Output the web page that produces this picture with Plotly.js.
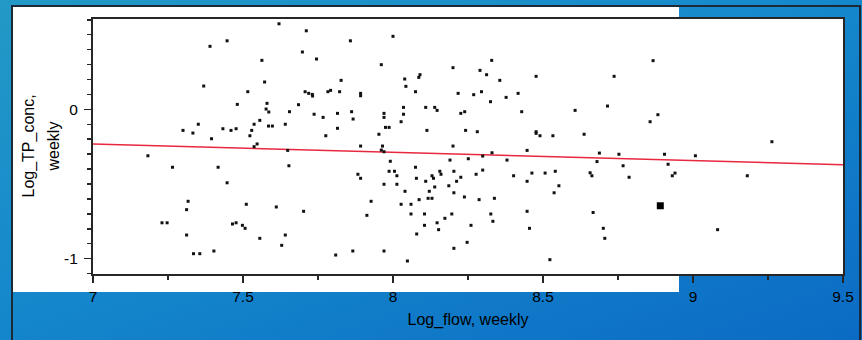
<!DOCTYPE html>
<html>
<head>
<meta charset="utf-8">
<script src="https://cdn.plot.ly/plotly-3.0.1.min.js"></script>
<style>
  html, body { margin: 0; padding: 0; }
  body {
    width: 862px; height: 340px; overflow: hidden; position: relative;
    background: linear-gradient(160deg, #2399c6 0%, #1589cc 45%, #0b6bc4 100%);
  }
  #frame {
    position: absolute; left: 11px; top: 5px; width: 846px; height: 340px;
    border-left: 2px solid #1c2a38; border-top: 2px solid #1c2a38; border-right: 2px solid #1c2a38;
  }
  #panel {
    position: absolute; left: 13px; top: 7px; width: 666px; height: 285px; background: #ffffff;
  }
  #chart { position: absolute; left: 0; top: 0; width: 862px; height: 340px; }
</style>
</head>
<body>
<div id="frame"></div>
<div id="panel"></div>
<div id="chart"></div>
<script>
// Weekly log flow (x) and log TP concentration (y)
const flow = [
  7.620, 7.711, 7.447, 7.390, 7.698, 7.745, 7.563, 7.572, 7.369, 7.516,
  7.707, 7.719, 7.731, 7.732, 7.783, 7.792, 7.822, 7.481, 7.580, 7.577,
  7.586, 7.685, 7.655, 7.737, 7.767, 7.815, 7.556, 7.351, 7.537, 7.585,
  7.598, 7.641, 7.815, 7.300, 7.333, 7.433, 7.460, 7.477, 7.529, 7.523,
  7.395, 7.776, 7.547,
  7.537, 7.183, 7.649, 7.265, 7.417, 7.653, 7.447, 7.317, 7.312, 7.511,
  7.611, 7.702, 7.230, 7.247, 7.465, 7.477, 7.498, 7.507, 7.312, 7.556,
  7.641, 7.629, 7.335, 7.356, 7.403, 7.809,
  7.858, 8.000, 7.961, 7.827, 7.892, 7.892, 8.039, 8.043, 8.086, 8.090,
  8.075, 8.200, 8.290, 8.329, 8.312, 8.356, 8.477, 8.217, 8.269, 8.295,
  8.325, 8.377, 8.417, 7.862, 7.867, 7.970, 7.970, 8.035, 8.035, 8.027,
  8.109, 8.139, 8.147, 7.975, 7.987, 7.953, 8.113, 8.226, 8.239, 8.242,
  8.281, 8.429, 8.477, 8.477, 8.490, 8.533, 8.607, 8.637,
  7.892, 7.965, 7.961, 7.970, 8.200, 8.447, 8.330, 8.299, 8.251, 8.190,
  7.991, 8.380, 7.883, 7.892, 7.987, 8.005, 8.013, 8.075, 8.078, 8.156,
  8.160, 8.130, 8.135, 8.109, 8.203, 8.226, 8.212, 8.277, 8.299, 8.402,
  8.463, 8.507, 8.541, 8.657, 8.663, 8.447, 8.553, 8.537, 7.970, 8.013,
  8.139, 8.121, 8.186, 8.203, 8.040, 7.927, 8.087, 8.117, 8.130, 8.238,
  8.287, 8.338, 8.027, 8.060, 7.913, 8.060, 8.105, 8.196, 8.326, 8.447,
  8.173, 8.147, 8.333, 8.105, 8.260, 8.152, 8.455, 8.079, 8.247, 8.203,
  7.866, 7.970, 8.048, 8.523,
  8.867, 8.737, 8.715, 8.883, 8.857, 9.263, 8.688, 8.753, 8.905, 9.008,
  8.680, 8.767, 8.917, 8.787, 8.931, 8.940, 9.181, 8.667, 8.701, 8.706,
  9.082
];
const conc = [
  0.573, 0.526, 0.459, 0.422, 0.384, 0.337, 0.328, 0.183, 0.156, 0.118,
  0.118, 0.107, 0.100, 0.089, 0.118, 0.127, 0.118, 0.033, 0.040, 0.002,
  -0.018, 0.031, -0.016, -0.033, -0.054, -0.027, -0.074, -0.100, -0.100, -0.112,
  -0.112, -0.100, -0.127, -0.141, -0.159, -0.130, -0.141, -0.130, -0.141, -0.177,
  -0.197, -0.177, -0.232,
  -0.250, -0.311, -0.275, -0.388, -0.388, -0.378, -0.492, -0.616, -0.672, -0.636,
  -0.654, -0.683, -0.760, -0.760, -0.768, -0.760, -0.777, -0.797, -0.842, -0.864,
  -0.842, -0.911, -0.967, -0.967, -0.949, -0.976,
  0.459, 0.489, 0.299, 0.194, 0.107, 0.091, 0.203, 0.154, 0.214, 0.232,
  0.118, 0.279, 0.261, 0.328, 0.232, 0.194, 0.221, 0.107, 0.098, 0.118,
  0.051, 0.080, 0.107, -0.016, -0.065, -0.027, -0.054, 0.013, -0.033, -0.083,
  0.013, 0.013, -0.007, -0.121, -0.121, -0.167, -0.141, -0.027, -0.016, -0.141,
  -0.150, -0.016, -0.150, -0.161, -0.177, -0.177, -0.007, -0.167,
  -0.246, -0.246, -0.273, -0.284, -0.246, -0.275, -0.291, -0.313, -0.331, -0.340,
  -0.348, -0.340, -0.435, -0.462, -0.415, -0.415, -0.445, -0.388, -0.462, -0.415,
  -0.435, -0.445, -0.462, -0.482, -0.415, -0.455, -0.482, -0.435, -0.407, -0.445,
  -0.427, -0.427, -0.415, -0.425, -0.445, -0.482, -0.512, -0.559, -0.502, -0.502,
  -0.520, -0.549, -0.512, -0.559, -0.549, -0.616, -0.605, -0.596, -0.596, -0.587,
  -0.605, -0.596, -0.636, -0.636, -0.710, -0.701, -0.701, -0.701, -0.701, -0.683,
  -0.730, -0.760, -0.750, -0.777, -0.777, -0.806, -0.797, -0.835, -0.891, -0.931,
  -0.949, -0.949, -1.016, -1.007,
  0.326, 0.221, 0.022, -0.036, -0.083, -0.217, -0.293, -0.301, -0.301, -0.311,
  -0.350, -0.378, -0.368, -0.455, -0.445, -0.427, -0.445, -0.691, -0.797, -0.864,
  -0.806
];
// Highlighted (selected) observation
const selFlow = [8.891];
const selConc = [-0.646];
// Fitted trend line end points
const fitFlow = [7.0, 9.5];
const fitConc = [-0.232, -0.371];
// Axis ticks and titles
const xTicks = [7, 7.5, 8, 8.5, 9, 9.5];
const xTickText = ['7', '7.5', '8', '8.5', '9', '9.5'];
const yTicks = [-1, 0];
const yTickText = ['-1', '0'];
const xTitle = 'Log_flow, weekly';
const yTitleLines = ['Log_TP_conc,', 'weekly'];

const tickFont = {family: 'Liberation Sans, Arial, sans-serif', size: 15.5, color: '#000'};
const titleFont = {family: 'Liberation Sans, Arial, sans-serif', size: 16, color: '#000'};
const axisColor = '#262626';

const traces = [
  {
    x: fitFlow, y: fitConc, type: 'scatter', mode: 'lines',
    line: {color: '#e8283f', width: 1.5}, hoverinfo: 'skip'
  },
  {
    x: flow, y: conc, type: 'scatter', mode: 'markers',
    marker: {symbol: 'square', size: 3, color: '#111111', line: {width: 0}}
  },
  {
    x: selFlow, y: selConc, type: 'scatter', mode: 'markers',
    marker: {symbol: 'square', size: 7, color: '#000000', line: {width: 0}}
  }
];

const plotW = 862 - 93 - 19;
const layout = {
  width: 862, height: 340,
  margin: {l: 93, r: 19, t: 19, b: 66, pad: 0},
  paper_bgcolor: 'rgba(0,0,0,0)',
  plot_bgcolor: '#ffffff',
  showlegend: false,
  font: tickFont,
  xaxis: {
    range: [7, 9.5], fixedrange: true,
    tickmode: 'array', tickvals: xTicks, ticktext: xTickText,
    ticks: 'outside', ticklen: 7, tickwidth: 1.5, tickcolor: axisColor,
    minor: {dtick: 0.25, tick0: 0, ticks: 'outside', ticklen: 4, tickwidth: 1.5, tickcolor: axisColor, showgrid: false},
    showline: true, linecolor: axisColor, linewidth: 2, mirror: true,
    showgrid: false, zeroline: false,
    tickfont: tickFont,
    title: {text: xTitle, font: titleFont, standoff: 10}
  },
  yaxis: {
    range: [-1.103, 0.605], fixedrange: true,
    tickmode: 'array', tickvals: yTicks, ticktext: yTickText,
    ticks: 'outside', ticklen: 7, tickwidth: 1.5, tickcolor: axisColor,
    ticklabelstandoff: 3,
    minor: {dtick: 0.1, tick0: 0, ticks: 'outside', ticklen: 4, tickwidth: 1.5, tickcolor: axisColor, showgrid: false},
    showline: true, linecolor: axisColor, linewidth: 2, mirror: true,
    showgrid: false, zeroline: false,
    tickfont: tickFont
  },
  annotations: [
    {text: yTitleLines[0], xref: 'paper', yref: 'paper', x: (28 - 93) / plotW, y: 0.5,
     xanchor: 'center', yanchor: 'middle', textangle: -90, showarrow: false, font: titleFont},
    {text: yTitleLines[1], xref: 'paper', yref: 'paper', x: (53 - 93) / plotW, y: 0.5,
     xanchor: 'center', yanchor: 'middle', textangle: -90, showarrow: false, font: titleFont}
  ]
};

Plotly.newPlot('chart', traces, layout, {displayModeBar: false, staticPlot: true});
</script>
</body>
</html>
